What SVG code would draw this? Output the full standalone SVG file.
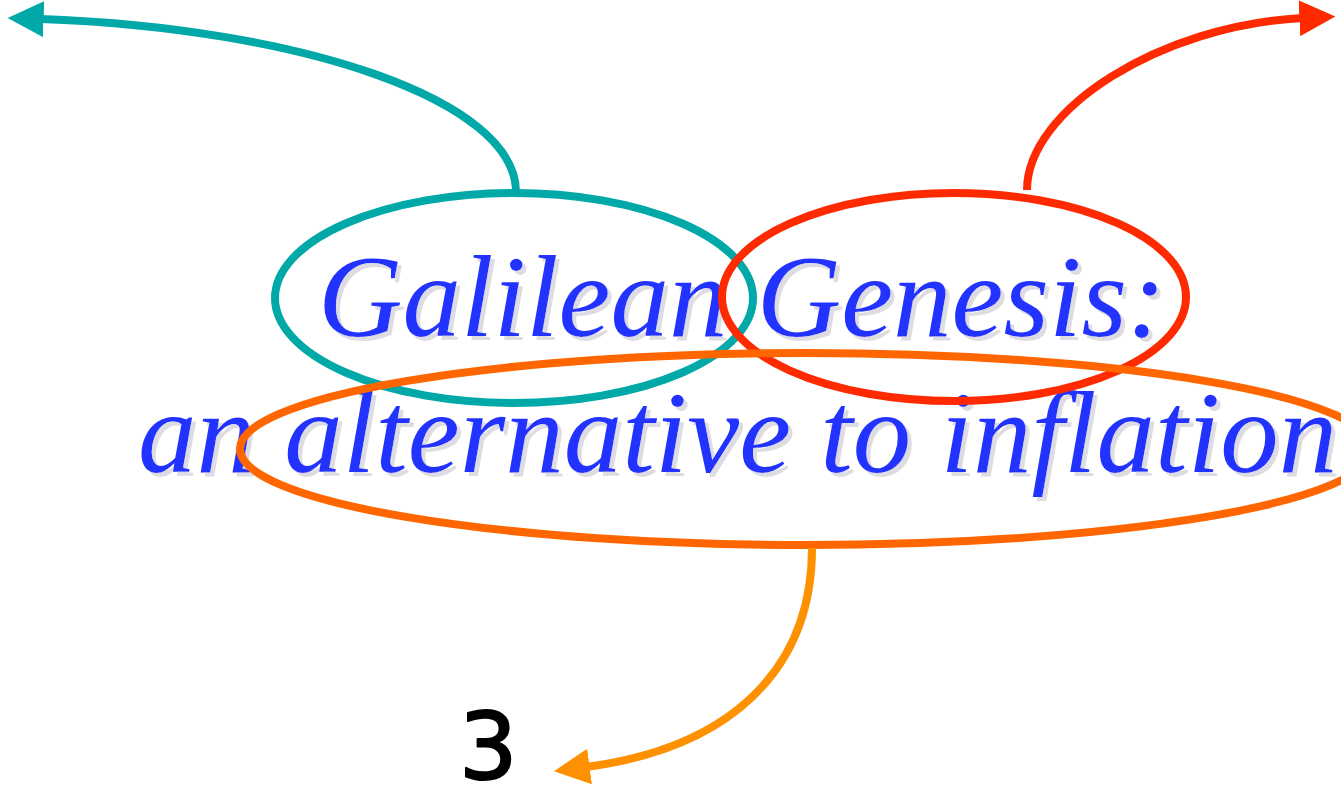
<svg xmlns="http://www.w3.org/2000/svg" width="1341" height="789" viewBox="0 0 1341 789">
  <defs>
    <!-- soft grey drop shadow under the title lettering -->
    <filter id="dropShadow" x="-5%" y="-20%" width="110%" height="140%">
      <feOffset in="SourceAlpha" dx="4" dy="4" result="off"/>
      <feFlood flood-color="#DCDCE2" result="grey"/>
      <feComposite in="grey" in2="off" operator="in" result="shade"/>
      <feMerge>
        <feMergeNode in="shade"/>
        <feMergeNode in="SourceGraphic"/>
      </feMerge>
    </filter>
    <marker id="headTeal" viewBox="0 0 10 10" refX="1" refY="5" markerWidth="4.5" markerHeight="4.5" markerUnits="strokeWidth" orient="auto">
      <path d="M0,0 L10,5 L0,10 Z" fill="#00A8A8"/>
    </marker>
    <marker id="headRed" viewBox="0 0 10 10" refX="1" refY="5" markerWidth="4.5" markerHeight="4.5" markerUnits="strokeWidth" orient="auto">
      <path d="M0,0 L10,5 L0,10 Z" fill="#FF2A00"/>
    </marker>
    <marker id="headAmber" viewBox="0 0 10 10" refX="1" refY="5" markerWidth="4.5" markerHeight="4.5" markerUnits="strokeWidth" orient="auto">
      <path d="M0,0 L10,5 L0,10 Z" fill="#FF9100"/>
    </marker>
  </defs>
  <style>
    .title { font-family: "Liberation Serif", "Times New Roman", serif; font-style: italic; font-size: 117px; fill: #2233FF; }
    .ring { fill: none; stroke-width: 8; }
    .link { fill: none; stroke-width: 8; }
    .page { font-family: "DejaVu Sans", sans-serif; font-size: 92px; fill: #000000; stroke: #000000; stroke-width: 2; stroke-linejoin: round; }
  </style>
  <rect width="1341" height="789" fill="#FFFFFF"/>

  <!-- title text -->
  <g id="title" filter="url(#dropShadow)">
    <text class="title" x="318" y="336">Galilean Genesis:</text>
    <text class="title" x="138" y="472">an alternative to inflation</text>
  </g>

  <!-- highlight rings -->
  <g id="ring-galilean">
    <ellipse class="ring" cx="514" cy="298" rx="239" ry="105" stroke="#00A8A8"/>
  </g>
  <g id="ring-genesis">
    <ellipse class="ring" cx="954" cy="297" rx="232" ry="104" stroke="#FF2A00"/>
  </g>
  <g id="ring-alternative">
    <ellipse class="ring" cx="806" cy="449" rx="566" ry="96" stroke="#FF6600"/>
  </g>

  <!-- page number -->
  <g id="page-number">
    <text class="page" x="459" y="779">3</text>
  </g>

  <!-- connectors -->
  <g id="connectors">
    <path class="link" stroke="#00A8A8" d="M516,192 C516,100 300,28 40,19" marker-end="url(#headTeal)"/>
    <path class="link" stroke="#FF2A00" d="M1027,190 C1027,110 1160,25 1303,18" marker-end="url(#headRed)"/>
    <path class="link" stroke="#FF9100" d="M812,548 C812,670 730,748 586,767" marker-end="url(#headAmber)"/>
  </g>
</svg>
